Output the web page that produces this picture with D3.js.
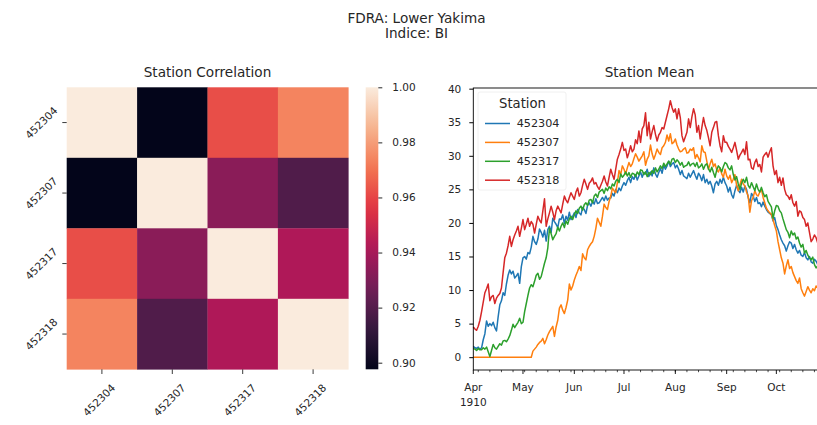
<!DOCTYPE html>
<html>
<head>
<meta charset="utf-8">
<script src="https://cdn.jsdelivr.net/npm/d3@7/dist/d3.min.js"></script>
<style>
  body { margin: 0; background: #fff; }
  svg text { font-family: "DejaVu Sans", sans-serif; fill: #262626; }
</style>
</head>
<body>
<svg id="chart" width="817" height="425"></svg>
<script>
// ---- data ----
const stations = ["452304", "452307", "452317", "452318"];
const corrRows = [
  [1.000, 0.8976, 0.962, 0.974],
  [0.8976, 1.000, 0.933, 0.919],
  [0.962, 0.933, 1.000, 0.942],
  [0.974, 0.919, 0.942, 1.000]
];
const colorbarTicks = [0.90, 0.92, 0.94, 0.96, 0.98, 1.00];
const meanTicks = [0, 5, 10, 15, 20, 25, 30, 35, 40];
const monthLabels = ["Apr", "May", "Jun", "Jul", "Aug", "Sep", "Oct"];
const yearLabel = "1910";
const seriesColors = ["#1f77b4", "#ff7f0e", "#2ca02c", "#d62728"];

// daily station means starting 1910-04-01
const mean452304 = [
  1.6, 1.4, 1.3, 1.5, 1.2, 1.4, 2.6, 3.5, 5.4, 4.6,
  5.0, 4.7, 5.2, 4.4, 3.9, 6.0, 7.8, 8.4, 9.6, 9.2,
  10.9, 12.2, 13.0, 12.4, 12.8, 11.8, 12.1, 12.5, 11.0, 13.5, 14.8,
  15.0, 14.6, 15.6, 15.4, 16.4, 18.0, 17.2, 16.8, 17.6, 19.1,
  18.6, 17.9, 18.9, 17.3, 19.0, 19.5, 18.6, 20.7, 20.2, 19.8,
  19.3, 20.6, 20.5, 21.2, 19.9, 21.0, 20.4, 21.6, 20.5, 21.0,
  21.5, 20.8, 22.0, 21.5, 21.2, 22.3, 22.0, 21.4, 22.6, 23.0,
  22.5, 23.2, 22.8, 23.6, 22.9, 23.0, 23.4, 23.8, 23.3, 24.0, 23.4,
  23.7, 23.7, 24.4, 24.0, 25.0, 24.5, 25.2, 24.8, 25.5, 26.0,
  25.6, 26.3, 26.8, 26.0, 26.9, 26.5, 27.2, 26.4, 27.0, 27.6,
  26.8, 27.5, 27.3, 28.0, 26.9, 27.6, 27.0, 28.2, 27.3, 26.8,
  27.5, 28.1, 27.4, 28.6, 28.0, 28.5, 29.2, 28.4, 28.8, 29.0,
  28.2, 28.6, 28.0, 27.2, 27.8, 27.0, 26.8, 26.6, 27.4, 26.8, 27.3,
  27.8, 27.1, 26.5, 27.4, 27.0, 26.3, 27.2, 26.0, 26.5, 25.8,
  26.2, 25.5, 24.5, 25.8, 26.2, 25.6, 26.5, 25.9, 26.8, 26.0,
  25.5, 24.6, 25.3, 24.2, 23.7, 24.8, 25.6, 24.9, 24.5, 25.3,
  24.6, 25.5, 25.0, 23.8, 23.0, 24.4, 24.0, 23.2, 23.8, 22.9,
  23.0, 22.4, 23.1, 22.5, 22.0, 21.6, 21.4, 21.2, 20.3, 20.8, 19.6,
  19.0, 18.2, 17.5, 17.0, 16.6, 15.8, 16.6, 17.2, 17.0, 16.2,
  16.8, 16.0, 15.5, 15.9, 15.2, 15.0, 15.6, 14.8, 14.5, 15.0,
  14.2, 14.0, 14.6, 14.3, 13.8, 14.1
];
const mean452307 = [
  0, 0, 0, 0, 0, 0, 0, 0, 0, 0,
  0, 0, 0, 0, 0, 0, 0, 0, 0, 0,
  0, 0, 0, 0, 0, 0, 0, 0, 0, 0, 0,
  0, 0, 0, 0, 0, 0.9, 1.2, 1.5, 1.9,
  2.2, 2.4, 2.8, 2.0, 2.6, 3.3, 3.8, 4.2, 4.6, 3.1,
  4.5, 5.5, 7.3, 7.8, 7.0, 6.5, 7.4, 8.5, 10.9, 10.0,
  10.6, 11.5, 12.2, 12.8, 13.5, 12.9, 15.4, 14.8, 14.5, 16.0,
  16.5, 16.9, 17.2, 18.0, 19.2, 20.7, 20.1, 19.5, 21.0, 22.8, 22.3,
  22.0, 23.2, 24.0, 25.2, 24.8, 24.5, 26.0, 27.8, 27.2, 28.5,
  28.0, 27.3, 28.2, 29.0, 28.4, 28.8, 29.6, 30.3, 29.8, 29.2,
  29.6, 30.0, 30.6, 28.6, 29.5, 30.0, 31.6, 30.3, 29.5, 30.2,
  31.0, 30.5, 30.2, 31.2, 31.5, 32.0, 33.1, 32.2, 33.3, 31.8,
  32.0, 32.5, 31.6, 31.0, 30.6, 30.7, 31.0, 31.2, 30.4, 30.5, 31.0,
  30.8, 31.2, 29.6, 30.2, 29.7, 29.1, 31.5, 30.6, 30.5, 29.2,
  28.0, 28.8, 29.5, 28.4, 28.8, 27.9, 27.6, 28.2, 27.3, 26.8,
  28.0, 27.0, 26.5, 27.1, 26.0, 26.5, 27.2, 25.6, 24.8, 25.7,
  26.5, 25.8, 25.5, 24.6, 24.0, 21.6, 23.3, 23.8, 24.8, 24.2,
  24.0, 24.6, 25.0, 23.8, 23.0, 22.2, 21.8, 21.5, 21.3, 20.5, 19.6,
  18.8, 17.2, 16.0, 14.8, 14.0, 12.4, 13.6, 14.5, 13.2, 13.5,
  12.6, 12.0, 11.4, 11.0, 11.8, 10.2, 9.6, 9.1, 9.8, 10.5,
  10.0, 9.6, 10.2, 9.9, 10.6, 10.3
];
const mean452317 = [
  1.3, 1.2, 1.0, 1.3, 1.1, 1.1, 1.4, 1.2, 1.5, 0.8,
  0.1, 1.0, 1.9, 1.4, 1.2, 1.6, 2.0, 1.8, 2.4, 2.5,
  2.3, 2.7, 3.2, 4.0, 4.9, 4.4, 4.8, 5.2, 5.8, 5.0, 5.2,
  6.8, 8.0, 9.2, 10.3, 10.8, 10.5, 11.3, 12.2, 12.5, 11.6,
  12.0, 13.0, 14.0, 14.8, 16.3, 19.2, 18.4, 17.5, 18.0, 18.4,
  19.4, 18.8, 19.5, 20.0, 19.3, 20.3, 19.8, 20.6, 21.0, 20.5,
  21.2, 21.8, 21.4, 22.2, 22.5, 21.9, 22.7, 23.0, 22.6, 23.4,
  23.5, 23.0, 24.0, 24.3, 23.8, 24.6, 24.8, 25.0, 24.4, 25.2, 24.8,
  25.4, 25.1, 25.8, 25.5, 26.2, 26.5, 26.0, 27.3, 26.8, 27.1,
  27.6, 27.0, 27.5, 26.8, 27.4, 27.3, 26.9, 27.6, 27.2, 27.9,
  27.8, 27.2, 27.6, 26.9, 27.5, 27.2, 27.8, 27.4, 28.2, 27.6,
  28.0, 28.5, 28.1, 28.9, 28.4, 28.8, 29.2, 28.7, 29.5, 29.6,
  29.0, 29.4, 29.1, 28.6, 29.0, 28.3, 28.5, 28.6, 29.1, 28.5, 28.8,
  28.9, 28.4, 29.0, 28.2, 28.4, 28.8, 28.0, 28.6, 28.8, 28.1,
  27.6, 28.3, 27.5, 26.8, 27.9, 28.5, 28.2, 27.6, 28.4, 29.0,
  28.8, 28.2, 27.9, 28.5, 27.2, 26.4, 26.9, 25.8, 25.0, 25.9,
  26.5, 26.0, 26.8, 25.6, 25.2, 26.0, 25.4, 24.8, 25.8, 25.0,
  24.6, 25.3, 24.5, 23.9, 24.2, 23.2, 22.8, 22.4, 20.7, 21.8, 22.6,
  22.5, 21.8, 21.5, 20.6, 19.8, 19.0, 18.6, 17.8, 18.8, 18.2,
  18.5, 17.6, 17.9, 17.0, 16.4, 16.8, 15.5, 15.9, 15.2, 14.8,
  14.5, 14.9, 13.8, 13.3, 13.6, 12.8
];
const mean452318 = [
  4.5, 4.2, 4.0, 4.6, 5.5, 6.8, 8.2, 9.6, 10.2, 10.9,
  8.4, 9.0, 9.2, 8.0, 8.8, 9.2, 9.5, 10.3, 12.6, 14.8,
  15.5, 16.6, 18.0, 16.5, 17.5, 18.2, 18.8, 19.5, 18.0, 19.2, 20.5,
  19.0, 19.8, 20.7, 19.5, 20.2, 19.8, 18.5, 19.8, 21.0, 20.4,
  20.0, 21.8, 23.6, 19.5, 20.6, 21.5, 22.5, 21.6, 20.5, 21.8,
  22.5, 22.0, 21.5, 22.8, 24.0, 23.4, 23.0, 23.8, 24.5, 24.0,
  23.5, 24.6, 25.2, 24.0, 24.5, 25.6, 26.5, 25.8, 25.0, 25.9,
  26.2, 26.7, 25.8, 26.0, 25.4, 25.0, 25.6, 26.2, 27.0, 26.1, 25.5,
  26.8, 28.0, 27.2, 26.5, 28.0, 29.5, 30.2, 31.0, 32.0, 30.8,
  31.0, 29.7, 30.5, 31.5, 30.6, 31.0, 32.4, 31.8, 33.7, 32.0,
  34.0, 34.5, 36.4, 33.0, 35.0, 32.5, 33.6, 34.5, 33.2, 32.2,
  33.1, 33.5, 34.2, 34.0, 35.0, 36.0, 37.0, 38.2, 37.2, 36.5,
  37.0, 35.5, 37.0, 35.7, 33.0, 32.1, 32.8, 33.5, 35.5, 34.2, 35.8,
  37.0, 36.1, 33.5, 34.5, 32.5, 34.2, 35.7, 34.5, 33.8, 32.7,
  31.5, 33.5, 34.2, 35.0, 35.1, 33.0, 31.5, 30.6, 33.0, 32.0,
  32.0, 31.4, 31.0, 30.5, 31.2, 32.0, 30.8, 29.5, 30.1, 30.5,
  31.0, 30.2, 32.1, 29.4, 29.5, 28.2, 28.0, 29.0, 29.5, 28.4,
  28.7, 27.6, 29.8, 30.2, 30.5, 29.8, 30.6, 31.2, 28.5, 27.2, 27.8,
  26.0, 26.8, 25.6, 26.7, 25.0, 24.2, 24.0, 23.5, 24.2, 23.0,
  22.5, 23.2, 21.0, 21.8, 21.6, 20.8, 20.5, 19.5, 20.0, 18.6,
  17.2, 17.6, 18.2, 17.8, 17.0, 16.8
];
const seriesValues = [mean452304, mean452307, mean452317, mean452318];

// ---- setup ----
const svg = d3.select("#chart");
const TICK_FONT = 10.5;

// figure title
svg.append("text").attr("x", 416.5).attr("y", 23).attr("text-anchor", "middle")
  .style("font-size", "13.6px").text("FDRA: Lower Yakima");
svg.append("text").attr("x", 416.5).attr("y", 38).attr("text-anchor", "middle")
  .style("font-size", "13.6px").text("Indice: BI");

// rocket-like colormap
const rocketStops = ["#03051a", "#35193e", "#701f57", "#ad1759", "#e13342", "#f37651", "#f6b48f", "#faebdd"];
const rocket = d3.scaleLinear()
  .domain(d3.range(rocketStops.length).map(i => i / (rocketStops.length - 1)))
  .range(rocketStops).interpolate(d3.interpolateRgb).clamp(true);
const vmin = d3.min(corrRows.flat()), vmax = d3.max(corrRows.flat());
const colorOf = v => rocket((v - vmin) / (vmax - vmin));

// ---- heatmap ----
const hx = d3.scaleBand().domain(stations).range([66.7, 348.3]);
const hy = d3.scaleBand().domain(stations).range([87.3, 369.3]);
const heat = svg.append("g");
corrRows.forEach((row, i) => row.forEach((v, j) => {
  heat.append("rect")
    .attr("x", hx(stations[j])).attr("y", hy(stations[i]))
    .attr("width", hx.bandwidth() + 0.3).attr("height", hy.bandwidth() + 0.3)
    .attr("fill", colorOf(v));
}));
svg.append("text").attr("x", (66.7 + 348.3) / 2).attr("y", 77).attr("text-anchor", "middle")
  .style("font-size", "13.6px").text("Station Correlation");

const diag = 0.7071;
function rotatedLabel(g, text, cx, cy) {
  const t = g.append("text").attr("text-anchor", "middle").attr("dominant-baseline", "central")
    .style("font-size", TICK_FONT + "px").text(text);
  t.attr("transform", `translate(${cx},${cy}) rotate(-45)`);
  return t;
}
// y tick marks and labels
stations.forEach(s => {
  const ty = hy(s) + hy.bandwidth() / 2;
  heat.append("line").attr("x1", 62.3).attr("x2", 66.7).attr("y1", ty).attr("y2", ty)
    .attr("stroke", "#262626").attr("stroke-width", 0.9);
  const tmp = heat.append("text").style("font-size", TICK_FONT + "px").text(s);
  const len = tmp.node().getComputedTextLength(); tmp.remove();
  const half = (len + TICK_FONT) * diag / 2;
  rotatedLabel(heat, s, 59 - half, ty);
});
// x tick marks and labels
stations.forEach(s => {
  const tx = hx(s) + hx.bandwidth() / 2;
  heat.append("line").attr("x1", tx).attr("x2", tx).attr("y1", 369.3).attr("y2", 374)
    .attr("stroke", "#262626").attr("stroke-width", 0.9);
  const tmp = heat.append("text").style("font-size", TICK_FONT + "px").text(s);
  const len = tmp.node().getComputedTextLength(); tmp.remove();
  const half = (len + TICK_FONT) * diag / 2;
  rotatedLabel(heat, s, tx - 3, 382 + half);
});

// ---- colorbar ----
const cbY = d3.scaleLinear().domain([vmin, vmax]).range([369.3, 87.3]);
const defs = svg.append("defs");
const grad = defs.append("linearGradient").attr("id", "cbgrad")
  .attr("x1", 0).attr("y1", 1).attr("x2", 0).attr("y2", 0);
d3.range(0, 1.0001, 0.05).forEach(t => grad.append("stop")
  .attr("offset", t).attr("stop-color", rocket(t)));
svg.append("rect").attr("x", 365.7).attr("y", 87.3).attr("width", 12.6).attr("height", 282)
  .attr("fill", "url(#cbgrad)");
const cbAxis = d3.axisRight(cbY).tickValues(colorbarTicks).tickFormat(d3.format(".2f"))
  .tickSize(4).tickPadding(10);
svg.append("g").attr("transform", "translate(378.3,0)").call(cbAxis)
  .call(g => g.select(".domain").remove())
  .call(g => g.selectAll("text").style("font-size", TICK_FONT + "px").attr("fill", "#262626"))
  .call(g => g.selectAll("line").attr("stroke", "#262626"));

// ---- station mean line chart ----
const plotLeft = 473.3, plotTop = 88, plotBottom = 370;
const startDay = new Date(Date.UTC(1910, 3, 1));
const endDay = new Date(Date.UTC(1910, 9, 31));
const pxPerDay = 1.656;
const plotRight = plotLeft + d3.utcDay.count(startDay, endDay) * pxPerDay;
const x = d3.scaleUtc().domain([startDay, endDay]).range([plotLeft, plotRight]);
const y = d3.scaleLinear().domain([-1.91, 40.1]).range([plotBottom, plotTop]);
const dayAt = i => d3.utcDay.offset(startDay, i);

const lineGen = d3.line().x((d, i) => x(dayAt(i))).y(d => y(d));
const lines = svg.append("g");
seriesValues.forEach((vals, k) => {
  lines.append("path").datum(vals).attr("d", lineGen)
    .attr("fill", "none").attr("stroke", seriesColors[k])
    .attr("stroke-width", 1.5).attr("stroke-linejoin", "round");
});

// frame
svg.append("rect").attr("x", plotLeft).attr("y", plotTop)
  .attr("width", plotRight - plotLeft).attr("height", plotBottom - plotTop)
  .attr("fill", "none").attr("stroke", "#000").attr("stroke-width", 0.9);

// y axis
const yAxis = d3.axisLeft(y).tickValues(meanTicks).tickSize(4).tickPadding(8);
svg.append("g").attr("transform", `translate(${plotLeft},0)`).call(yAxis)
  .call(g => g.select(".domain").remove())
  .call(g => g.selectAll("text").style("font-size", TICK_FONT + "px").attr("fill", "#262626"))
  .call(g => g.selectAll("line").attr("stroke", "#000"));

// x axis: weekly minor ticks, monthly major ticks
const xg = svg.append("g");
d3.utcMonday.range(startDay, endDay).forEach(d => {
  xg.append("line").attr("x1", x(d)).attr("x2", x(d)).attr("y1", plotBottom).attr("y2", plotBottom + 2.2)
    .attr("stroke", "#000").attr("stroke-width", 0.7);
});
const months = d3.utcMonth.range(startDay, endDay);
months.forEach((d, i) => {
  xg.append("line").attr("x1", x(d)).attr("x2", x(d)).attr("y1", plotBottom).attr("y2", plotBottom + 4)
    .attr("stroke", "#000").attr("stroke-width", 0.9);
  xg.append("text").attr("x", x(d)).attr("y", 391).attr("text-anchor", "middle")
    .style("font-size", TICK_FONT + "px").text(monthLabels[i]);
  if (i === 0) {
    xg.append("text").attr("x", x(d)).attr("y", 406).attr("text-anchor", "middle")
      .style("font-size", TICK_FONT + "px").text(yearLabel);
  }
});

svg.append("text").attr("x", 649.5).attr("y", 77).attr("text-anchor", "middle")
  .style("font-size", "13.6px").text("Station Mean");

// legend
const lg = svg.append("g");
lg.append("rect").attr("x", 478).attr("y", 92).attr("width", 88).attr("height", 98).attr("rx", 2)
  .attr("fill", "#fff").attr("fill-opacity", 0.8).attr("stroke", "#f0f0f0");
lg.append("text").attr("x", 522.5).attr("y", 108).attr("text-anchor", "middle")
  .style("font-size", "13.2px").text("Station");
stations.forEach((s, k) => {
  const ly = 123.5 + k * 18.9;
  lg.append("line").attr("x1", 485).attr("x2", 510).attr("y1", ly).attr("y2", ly)
    .attr("stroke", seriesColors[k]).attr("stroke-width", 1.5);
  lg.append("text").attr("x", 516.7).attr("y", ly).attr("dominant-baseline", "central")
    .style("font-size", "11.2px").text(s);
});
</script>
</body>
</html>
